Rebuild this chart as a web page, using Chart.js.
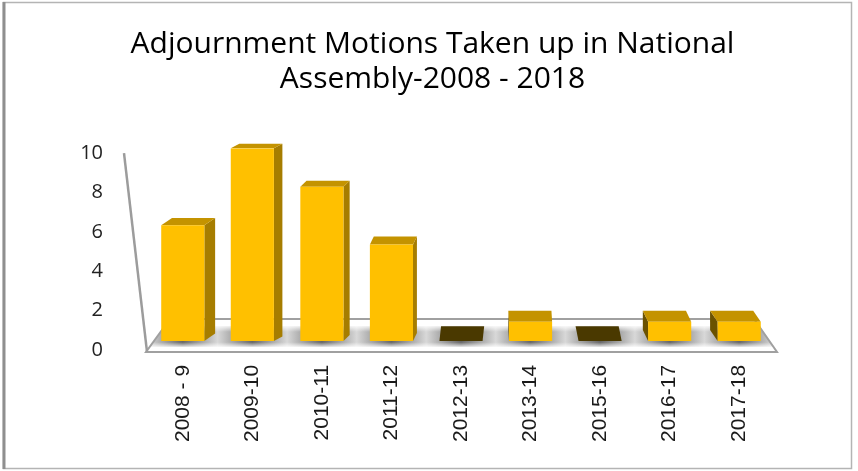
<!DOCTYPE html>
<html>
<head>
<meta charset="utf-8">
<script src="https://cdn.jsdelivr.net/npm/chart.js@4/dist/chart.umd.min.js"></script>
<style>
  html, body { margin: 0; padding: 0; background: #ffffff; }
  canvas { display: block; }
</style>
</head>
<body>
<canvas id="chart" width="858" height="471"></canvas>
<script>
// Session labels and the number of adjournment motions taken up in each
const categories = ['2008 - 9', '2009-10', '2010-11', '2011-12', '2012-13', '2013-14', '2015-16', '2016-17', '2017-18'];
const motions = [6, 10, 8, 5, 0, 1, 0, 1, 1];
const yTicks = [0, 2, 4, 6, 8, 10];
const titleLines = ['Adjournment Motions Taken up in National', 'Assembly-2008 - 2018'];

const FRONT = '#FFC000';
const TOP = '#C49300';
const SIDE_RIGHT = '#A67D00';
const SIDE_LEFT = '#6B5200';
const EMPTY_TOP = '#4A3900';

function poly(ctx, pts, fill) {
  ctx.beginPath();
  ctx.moveTo(pts[0][0], pts[0][1]);
  for (let i = 1; i < pts.length; i++) ctx.lineTo(pts[i][0], pts[i][1]);
  ctx.closePath();
  ctx.fillStyle = fill;
  ctx.fill();
}

// Draws the frame, the floor slab, the back wall edge and the top/side faces of each bar
const stage3d = {
  id: 'stage3d',
  beforeDatasetsDraw(chart) {
    const ctx = chart.ctx;
    const area = chart.chartArea;
    const yLab = chart.scales.y;
    const yBar = chart.scales.yb;
    const base = yBar.getPixelForValue(0);
    ctx.save();

    // outer frame
    ctx.strokeStyle = '#b4b4b4';
    ctx.lineWidth = 1.5;
    ctx.strokeRect(3.5, 2.5, 848, 466);
    ctx.strokeStyle = '#8f8f8f';
    ctx.lineWidth = 3;
    ctx.beginPath(); ctx.moveTo(4, 2); ctx.lineTo(4, 469); ctx.stroke();

    // floor slab
    const fy = area.bottom + 2, by = base - 22;
    const fl = area.left - 2, fr = area.right + 3;
    const bl = area.left + 22, br = area.right - 20;
    const floorPts = [[fl, fy], [fr, fy], [br, by], [bl, by]];
    poly(ctx, floorPts, '#ffffff');

    ctx.save();
    ctx.beginPath();
    ctx.moveTo(fl, fy); ctx.lineTo(fr, fy); ctx.lineTo(br, by); ctx.lineTo(bl, by); ctx.closePath();
    ctx.clip();
    const n = categories.length;
    const hg = ctx.createLinearGradient(area.left, 0, area.right, 0);
    for (let i = 0; i <= n; i++) {
      hg.addColorStop(Math.min(1, i / n), '#d8d8d8');
      if (i < n) hg.addColorStop((i + 0.5) / n, '#666666');
    }
    ctx.fillStyle = hg;
    ctx.fillRect(fl - 5, base - 15, fr - fl + 10, 21);
    const vg = ctx.createLinearGradient(0, base - 16, 0, base + 7);
    vg.addColorStop(0, 'rgba(255,255,255,1)');
    vg.addColorStop(0.3, 'rgba(255,255,255,0)');
    vg.addColorStop(0.75, 'rgba(255,255,255,0)');
    vg.addColorStop(1, 'rgba(255,255,255,1)');
    ctx.fillStyle = vg;
    ctx.fillRect(fl - 5, base - 16, fr - fl + 10, 23);
    ctx.restore();

    ctx.strokeStyle = '#a0a0a0';
    ctx.lineWidth = 2;
    ctx.beginPath();
    ctx.moveTo(fl, fy); ctx.lineTo(fr, fy); ctx.lineTo(br, by); ctx.lineTo(bl, by); ctx.closePath();
    ctx.stroke();

    // back wall edge
    ctx.strokeStyle = '#9c9c9c';
    ctx.lineWidth = 2.5;
    ctx.beginPath();
    ctx.moveTo(area.left - 24, yLab.getPixelForValue(10));
    ctx.lineTo(area.left - 1, fy);
    ctx.stroke();

    // bar depth faces
    const vanishX = area.left + (area.right - area.left) * 0.578;
    const meta = chart.getDatasetMeta(0);
    meta.data.forEach((bar, i) => {
      const p = bar.getProps(['x', 'y', 'base', 'width'], true);
      const left = p.x - p.width / 2, right = p.x + p.width / 2;
      const dx = (vanishX - p.x) * 0.033;
      const dy = -(4.5 + (p.y - area.top) * 0.037);
      if (motions[i] === 0) {
        poly(ctx, [[left, p.base], [right, p.base], [right + dx, p.base + dy - 3], [left + dx, p.base + dy - 3]], EMPTY_TOP);
        return;
      }
      if (dx > 0.5) {
        poly(ctx, [[right, p.y], [right + dx, p.y + dy], [right + dx, p.base + dy], [right, p.base]], SIDE_RIGHT);
      } else if (dx < -0.5) {
        poly(ctx, [[left, p.y], [left + dx, p.y + dy], [left + dx, p.base + dy], [left, p.base]], SIDE_LEFT);
      }
      poly(ctx, [[left, p.y], [right, p.y], [right + dx, p.y + dy], [left + dx, p.y + dy]], TOP);
    });
    ctx.restore();
  }
};

new Chart(document.getElementById('chart'), {
  type: 'bar',
  data: {
    labels: categories,
    datasets: [{
      data: motions,
      yAxisID: 'yb',
      backgroundColor: FRONT,
      borderWidth: 0,
      barPercentage: 0.62,
      categoryPercentage: 1
    }]
  },
  plugins: [stage3d],
  options: {
    responsive: false,
    animation: false,
    events: [],
    layout: { padding: { left: 37, right: 30, top: 0, bottom: 14 } },
    plugins: {
      legend: { display: false },
      tooltip: { enabled: false },
      title: {
        display: true,
        text: titleLines,
        color: '#000000',
        font: { family: "'Open Sans', sans-serif", size: 30, weight: 'normal', lineHeight: 1.17 },
        padding: { top: 27, bottom: 51 }
      }
    },
    scales: {
      x: {
        grid: { display: false, drawTicks: false },
        border: { display: false },
        ticks: {
          minRotation: 90,
          maxRotation: 90,
          padding: 15,
          color: '#1a1a1a',
          font: { family: "'Liberation Sans', Arial, sans-serif", size: 21 }
        }
      },
      y: {
        position: 'left',
        min: 0,
        max: 10.25,
        grid: { display: false, drawTicks: false },
        border: { display: false },
        afterBuildTicks(scale) { scale.ticks = yTicks.map(v => ({ value: v })); },
        afterFit(scale) { scale.width = 111; },
        ticks: {
          padding: 45,
          color: '#222222',
          font: { family: "'Open Sans', sans-serif", size: 20 }
        }
      },
      yb: {
        display: false,
        min: -0.466,
        max: 10
      },
      // empty right-hand margin axis so the plot keeps its width
      yr: {
        position: 'right',
        min: 0,
        max: 10,
        grid: { display: false, drawTicks: false },
        border: { display: false },
        ticks: { display: false },
        afterFit(scale) { scale.width = 54; }
      }
    }
  }
});
</script>
</body>
</html>
